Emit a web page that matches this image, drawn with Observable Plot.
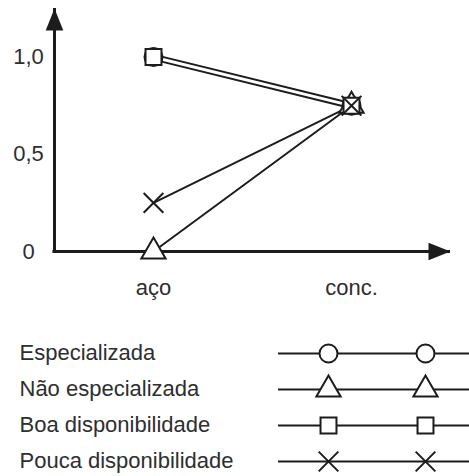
<!DOCTYPE html>
<html>
<head>
<meta charset="utf-8">
<script src="https://cdn.jsdelivr.net/npm/d3@7"></script>
<script src="https://cdn.jsdelivr.net/npm/@observablehq/plot@0.6"></script>
<style>
  html, body { margin: 0; padding: 0; background: #fff; }
  svg { display: block; }
</style>
</head>
<body>
<div id="chart"></div>
<script>
// ---- data ----
const categories = ["aço", "conc."];
const series = ["Especializada", "Não especializada", "Boa disponibilidade", "Pouca disponibilidade"];
const especializada = [1.0, 0.75];
const naoEspecializada = [0, 0.75];
const boaDisponibilidade = [1.0, 0.75];
const poucaDisponibilidade = [0.25, 0.75];
const yTicks = [0, 0.5, 1.0];
const yTickLabels = ["0", "0,5", "1,0"];
const symbolNames = ["circle", "triangle", "square", "times"];

const seriesValues = [especializada, naoEspecializada, boaDisponibilidade, poucaDisponibilidade];
const rows = series.flatMap((s, i) => categories.map((c, j) => ({serie: s, cat: j, value: seriesValues[i][j]})));

// ---- style ----
const ink = "#1c1c1c";
const textColor = "#2e2e2e";
const font = "'Liberation Sans', Arial, Helvetica, sans-serif";
const lineOffset = {"Especializada": -2.5, "Boa disponibilidade": 2.5};

// filled, elongated arrowhead: tip at the origin, body pointing down
const arrowHead = {
  draw(ctx, size) {
    const r = Math.sqrt(size / Math.PI);
    ctx.moveTo(0, 0);
    ctx.lineTo(r * 0.8, r * 2);
    ctx.lineTo(-r * 0.8, r * 2);
    ctx.closePath();
  }
};

const xDomain = [-0.5, 1.5];
const yDomain = [0, 1.25];

const chart = Plot.plot({
  width: 469,
  height: 320,
  marginLeft: 54,
  marginRight: 19,
  marginTop: 8,
  marginBottom: 69,
  x: {domain: xDomain},
  y: {domain: yDomain},
  symbol: {domain: series, range: symbolNames},
  style: {fontFamily: font, fontSize: "22px", background: "#fff", color: textColor},
  marks: [
    Plot.axisY(yTicks, {tickSize: 0, tickPadding: 26, textAnchor: "middle", label: null, tickFormat: d => yTickLabels[yTicks.indexOf(d)], fill: textColor}),
    Plot.axisX(categories.map((c, i) => i), {tickSize: 0, tickPadding: 28, label: null, tickFormat: i => categories[i], fill: textColor}),
    // axes with arrows
    Plot.ruleX([xDomain[0]], {y1: yDomain[0], y2: yDomain[1], stroke: ink, strokeWidth: 3}),
    Plot.ruleY([yDomain[0]], {x1: xDomain[0] - 0.008, x2: xDomain[1], stroke: ink, strokeWidth: 3}),
    Plot.dot([0], {x: xDomain[0], y: yDomain[1], r: 11, symbol: arrowHead, fill: ink, stroke: "none"}),
    Plot.dot([0], {x: xDomain[1], y: yDomain[0], r: 11, symbol: arrowHead, rotate: 90, fill: ink, stroke: "none"}),
    // series lines
    ...series.map(s => Plot.line(rows.filter(d => d.serie === s), {
      x: "cat", y: "value", stroke: ink, strokeWidth: 2, dy: lineOffset[s] || 0
    })),
    // markers
    Plot.dot(rows, {x: "cat", y: "value", symbol: "serie", r: 9, stroke: ink, strokeWidth: 2, fill: d => d.serie === "Pouca disponibilidade" ? "none" : "#fff"})
  ]
});

// ---- legend ----
const legendText = 19, legendLine = [278, 469], legendMarks = [328, 425];
const legendRows = series.flatMap(s => legendMarks.map(x => ({serie: s, x})));
const legend = Plot.plot({
  width: 469,
  height: 156,
  margin: 0,
  marginTop: 32,
  marginBottom: 14,
  x: {domain: [0, 469], range: [0, 469], axis: null},
  y: {type: "point", domain: series, padding: 0, axis: null},
  symbol: {domain: series, range: symbolNames},
  style: {fontFamily: font, fontSize: "22px", background: "#fff"},
  marks: [
    Plot.text(series, {x: legendText, y: d => d, text: d => d, textAnchor: "start", fill: textColor, dy: -1}),
    Plot.ruleY(series, {y: d => d, x1: legendLine[0], x2: legendLine[1], stroke: ink, strokeWidth: 2}),
    Plot.dot(legendRows, {x: "x", y: "serie", symbol: "serie", r: 9, stroke: ink, strokeWidth: 2, fill: d => d.serie === "Pouca disponibilidade" ? "none" : "#fff"})
  ]
});

const root = document.getElementById("chart");
root.append(chart, legend);
</script>
</body>
</html>
